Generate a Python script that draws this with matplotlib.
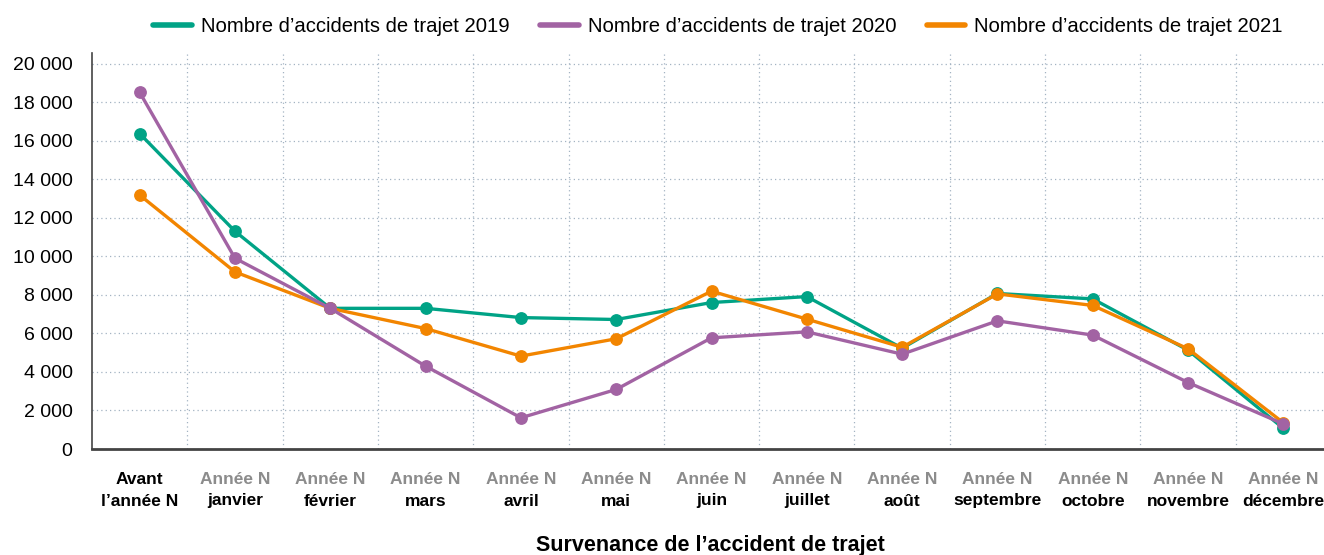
import matplotlib.pyplot as plt
from matplotlib import font_manager
from matplotlib.lines import Line2D
from matplotlib.ticker import FuncFormatter, MultipleLocator

# police condensée si disponible
noms = {f.name for f in font_manager.fontManager.ttflist}
police = 'Liberation Sans Narrow' if 'Liberation Sans Narrow' in noms else 'Liberation Sans'
plt.rcParams['font.family'] = [police, 'DejaVu Sans']

# Données
categories = ['Avant', 'janvier', 'février', 'mars', 'avril', 'mai', 'juin',
              'juillet', 'août', 'septembre', 'octobre', 'novembre', 'décembre']
ligne_haut = ['Avant'] + ['Année N'] * 12
ligne_bas = ["l’année N", 'janvier', 'février', 'mars', 'avril', 'mai', 'juin',
             'juillet', 'août', 'septembre', 'octobre', 'novembre', 'décembre']

accidents_2019 = [16370, 11300, 7300, 7300, 6820, 6720, 7600, 7910, 5230, 8070, 7790, 5130, 1070]
accidents_2020 = [18510, 9900, 7300, 4300, 1620, 3090, 5770, 6080, 4920, 6650, 5910, 3450, 1300]
accidents_2021 = [13180, 9190, 7300, 6250, 4820, 5720, 8190, 6740, 5280, 8050, 7450, 5200, 1360]

fig = plt.figure(figsize=(13.24, 5.55), dpi=100)
ax = fig.add_axes([92 / 1324, 106 / 555, 1239 / 1324, 396 / 555])

x = range(len(categories))
ax.plot(x, accidents_2019, color='#00a386', lw=2.4, marker='o', ms=8.2,
        label='Nombre d’accidents de trajet 2019', zorder=3)
ax.plot(x, accidents_2020, color='#a263a3', lw=2.4, marker='o', ms=8.2,
        label='Nombre d’accidents de trajet 2020', zorder=5)
ax.plot(x, accidents_2021, color='#f28500', lw=2.4, marker='o', ms=8.2,
        label='Nombre d’accidents de trajet 2021', zorder=4)

ax.set_xlim(-0.5, 12.5)
ax.set_ylim(0, 20550)
ax.yaxis.set_major_locator(MultipleLocator(2000))
ax.yaxis.set_major_formatter(FuncFormatter(lambda v, p: f'{int(v):,}'.replace(',', ' ')))
ax.tick_params(axis='y', length=0, labelsize=14, pad=14)

# grille pointillée, verticales entre les catégories
ax.set_xticks([i + 0.5 for i in range(12)], minor=True)
ax.set_xticks([])
ax.grid(axis='y', which='major', ls=(0, (1, 2.5)), color='#a3b3c2', lw=0.9)
ax.grid(axis='x', which='minor', ls=(0, (1, 2.5)), color='#a3b3c2', lw=0.9)
ax.tick_params(axis='x', which='minor', length=0)
ax.set_axisbelow(True)

for s in ['top', 'right']:
    ax.spines[s].set_visible(False)
ax.spines['left'].set_color('#444444')
ax.spines['left'].set_linewidth(1.2)
ax.spines['bottom'].set_color('#444444')
ax.spines['bottom'].set_linewidth(2)

# étiquettes de catégories sur deux lignes
for i in x:
    couleur = '#000000' if i == 0 else '#8c8c8c'
    ax.annotate(ligne_haut[i], (i, 0), xycoords=('data', 'axes fraction'),
                xytext=(0, -31), textcoords='offset pixels', ha='center', va='center',
                fontsize=12.5, fontweight='bold', color=couleur)
    ax.annotate(ligne_bas[i], (i, 0), xycoords=('data', 'axes fraction'),
                xytext=(0, -52), textcoords='offset pixels', ha='center', va='center',
                fontsize=12.5, fontweight='bold', color='#000000')

fig.text(710 / 1324, 1 - 545 / 555, 'Survenance de l’accident de trajet',
         ha='center', va='center', fontsize=15.5, fontweight='bold')

handles, labels = ax.get_legend_handles_labels()
poignees = [Line2D([], [], color=h.get_color(), lw=4, solid_capstyle='round') for h in handles]
fig.legend(poignees, labels, loc='center', bbox_to_anchor=(718 / 1324, 1 - 27 / 555),
           ncol=3, frameon=False, fontsize=14.6, handlelength=1.9, handletextpad=0.45,
           columnspacing=1.5)

fig.savefig('out.png', dpi=100)
